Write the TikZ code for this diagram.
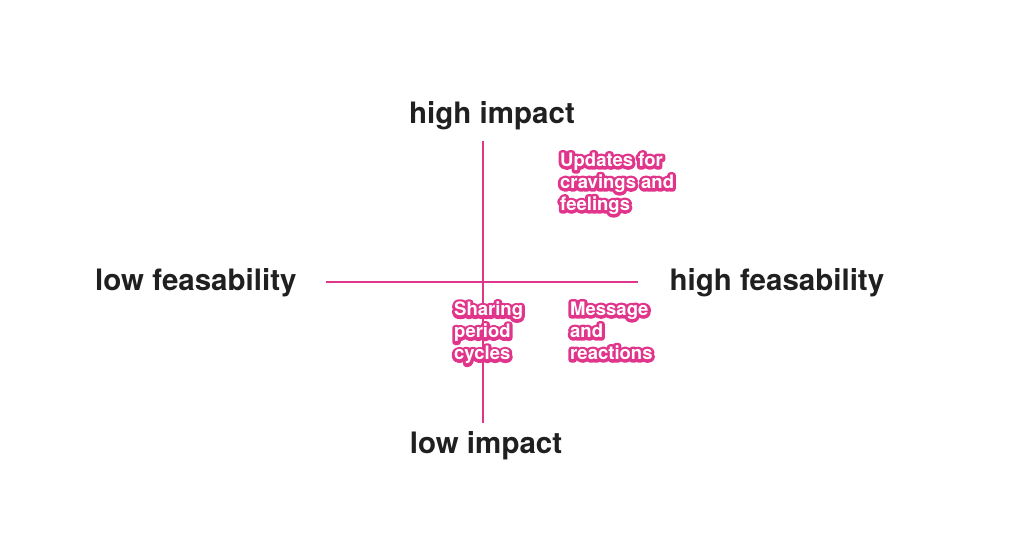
\documentclass[tikz,border=0pt]{standalone}
\usepackage{fontspec}
\setmainfont{TeX Gyre Heros}
\usetikzlibrary{positioning}

\definecolor{magent}{HTML}{E0358B}
\definecolor{inkgray}{HTML}{202020}
% white letters with a magenta rim
\newcommand{\ol}[1]{\rlap{\special{pdf:literal direct q 1 Tr 6 w 1 j 0.878 0.208 0.545 RG}#1\special{pdf:literal direct Q}}#1}

\begin{document}
\begin{tikzpicture}[x=1pt, y=-1pt]

\tikzset{
    axislabel/.style={
        text=inkgray,
        font=\fontsize{29.5}{34}\selectfont\bfseries
    },
    idea/.style={
        anchor=north west,
        text=white,
        align=left,
        inner sep=0pt,
        font=\fontsize{18.5}{22}\selectfont\bfseries
    },
    axis/.style={magent, line width=2.8pt}
}

\useasboundingbox (0,0) rectangle (1018,550);

\coordinate (top) at (483,141);
\coordinate (bottom) at (483,423);
\coordinate (left) at (326,282);
\coordinate (right) at (638,282);

\draw[axis] (top) -- (bottom);
\draw[axis] (left) -- (right);

\node[axislabel, above=8pt of top, xshift=9pt] (hi) {high impact};
\node[axislabel, below=5pt of bottom, xshift=3pt] (lo) {low impact};
\node[axislabel, left=26pt of left, yshift=-1pt] (lf) {low feasability};
\node[axislabel, right=28pt of right, yshift=-1pt] (hf) {high feasability};

\node[idea] (upd) at (560,153) {\ol{Updates for}\\ \ol{cravings and}\\ \ol{feelings}};
\node[idea] (share) at (454,302) {\ol{Sharing}\\ \ol{period}\\ \ol{cycles}};
\node[idea] (msg) at (570,302) {\ol{Message}\\ \ol{and}\\ \ol{reactions}};
    %
\end{tikzpicture}
\end{document}
